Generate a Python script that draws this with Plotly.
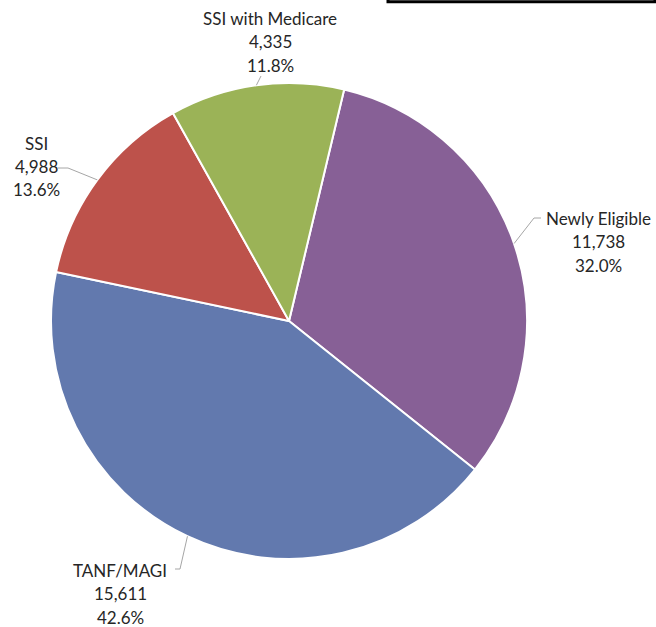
import math
import plotly.graph_objects as go

# Data
categories = ["Newly Eligible", "TANF/MAGI", "SSI", "SSI with Medicare"]
values = [11738, 15611, 4988, 4335]
colors = ["#876096", "#6279AE", "#BD524B", "#9BB357"]

W, H = 656, 627
cx, cy, R = 289, 321, 238
rotation = 13.4

total = sum(values)
pcts = [v / total * 100 for v in values]

fig = go.Figure()
fig.add_trace(go.Pie(
    labels=categories, values=values, sort=False, direction="clockwise",
    rotation=rotation, marker=dict(colors=colors, line=dict(color="white", width=2)),
    textinfo="none", hoverinfo="label+value+percent", showlegend=False,
    domain=dict(x=[(cx - R) / W, (cx + R) / W], y=[1 - (cy + R) / H, 1 - (cy - R) / H]),
))

def px(x, y):
    return x / W, 1 - y / H

# label placement (pixels): text center x, top line center y, leader start points
label_pos = {
    "Newly Eligible": dict(tx=598, ty=218, lead=[(541, 218), (534, 218)]),
    "TANF/MAGI": dict(tx=120, ty=570, lead=[(175, 569), (180, 569)]),
    "SSI": dict(tx=36, ty=143, lead=[(58, 168), (68, 168)]),
    "SSI with Medicare": dict(tx=270, ty=18, lead=[(261, 76)]),
}

font = dict(family="Lato, Open Sans, sans-serif", size=17, color="#262626")
cum = 0.0
shapes = []
annotations = []
for cat, v, p in zip(categories, values, pcts):
    mid = rotation + (cum + v / 2) / total * 360
    cum += v
    ex = cx + R * math.sin(math.radians(mid))
    ey = cy - R * math.cos(math.radians(mid))
    lp = label_pos[cat]
    pts = lp["lead"] + [(ex, ey)]
    path = "M " + " L ".join(f"{px(a, b)[0]},{px(a, b)[1]}" for a, b in pts)
    shapes.append(dict(type="path", xref="paper", yref="paper", path=path,
                       line=dict(color="#A6A6A6", width=1)))
    lines = [cat, f"{v:,}", f"{p:.1f}%"]
    for i, t in enumerate(lines):
        x, y = px(lp["tx"], lp["ty"] + i * 23.5)
        annotations.append(dict(x=x, y=y, xref="paper", yref="paper", text=t,
                                showarrow=False, font=font, xanchor="center",
                                yanchor="middle"))

# partial box at top right
shapes.append(dict(type="rect", xref="paper", yref="paper",
                   x0=388 / W, x1=655 / W, y0=1 - 1.8 / H, y1=1.05,
                   line=dict(color="black", width=3)))

fig.update_layout(width=W, height=H, margin=dict(l=0, r=0, t=0, b=0),
                  paper_bgcolor="white", plot_bgcolor="white",
                  shapes=shapes, annotations=annotations)
fig.write_html("out.html", post_script="document.body.style.margin='0';",
               config={"displayModeBar": False})
